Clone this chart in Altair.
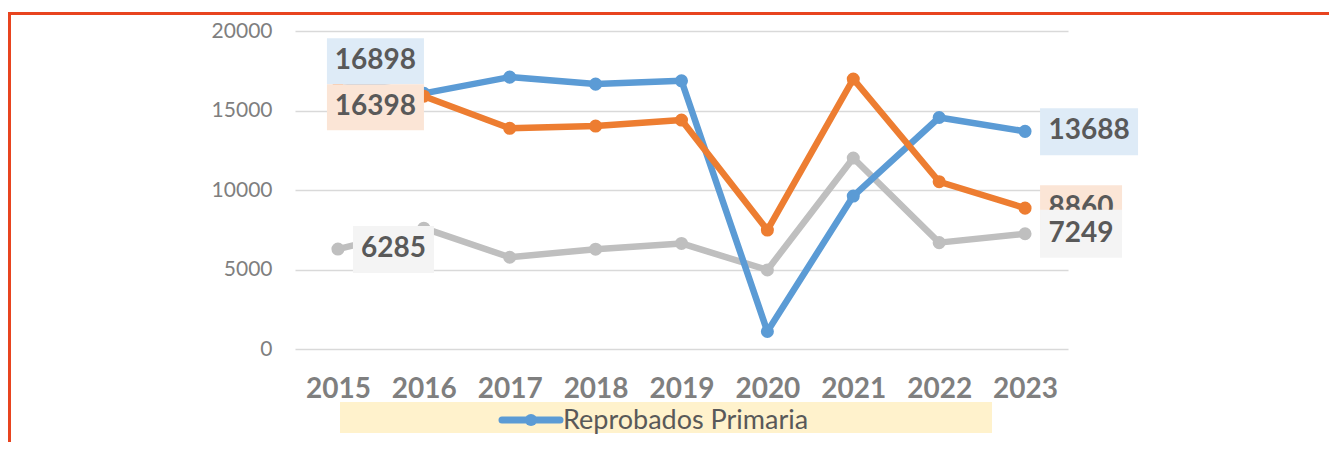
import altair as alt
import pandas as pd

# ---- data ----
years = [2015, 2016, 2017, 2018, 2019, 2020, 2021, 2022, 2023]
primaria = [16898, 16080, 17100, 16660, 16870, 1100, 9620, 14560, 13688]
secundaria = [16398, 15900, 13880, 14020, 14400, 7480, 16980, 10520, 8860]
preescolar = [6285, 7600, 5770, 6280, 6640, 4970, 12010, 6690, 7249]
series_names = ["Reprobados Primaria", "Reprobados Secundaria", "Reprobados Preescolar"]
y_ticks = [0, 5000, 10000, 15000, 20000]

rows = []
for name, vals in zip(series_names, [primaria, secundaria, preescolar]):
    for yr, v in zip(years, vals):
        rows.append({"year": yr, "value": v, "serie": name})
df = pd.DataFrame(rows)

BLUE, ORANGE, GRAY = "#5b9bd5", "#ed7d31", "#bfbfbf"
TXT = "#595959"
AX = "#7f7f7f"

xscale = alt.Scale(domain=[2014.5, 2023.5], nice=False, zero=False)
yscale = alt.Scale(domain=[0, 20000], nice=False)

x_axis = alt.Axis(values=years, format="d", grid=False, domain=False, ticks=False,
                  labelFont="Lato", labelFontWeight="bold", labelFontSize=28,
                  labelColor=AX, labelPadding=26, labelFlush=False, labelOverlap=False,
                  title=None)
y_axis = alt.Axis(values=y_ticks, format="d", grid=True, gridColor="#d9d9d9", gridWidth=1.5,
                  domain=False, ticks=False, labelFont="Lato", labelFontSize=21,
                  labelColor=AX, labelPadding=23, title=None)

X = alt.X("year:Q", scale=xscale, axis=x_axis)
Y = alt.Y("value:Q", scale=yscale, axis=y_axis)

layers = []
for name, col in [(series_names[2], GRAY), (series_names[0], BLUE), (series_names[1], ORANGE)]:
    base = alt.Chart(df).transform_filter(alt.datum.serie == name)
    layers.append(base.mark_line(color=col, strokeWidth=6.5, strokeJoin="round", strokeCap="round").encode(x=X, y=Y))
    layers.append(base.mark_circle(color=col, size=170, opacity=1).encode(x=X, y=Y))


def label(name, year, fill, L, R, T, B, dx, dy):
    base = alt.Chart(df).transform_filter((alt.datum.serie == name) & (alt.datum.year == year))
    box = base.mark_rect(fill=fill, xOffset=L, x2Offset=R, yOffset=T, y2Offset=B).encode(
        x=X, x2=alt.X2("year:Q"), y=Y, y2=alt.Y2("value:Q"))
    txt = base.mark_text(dx=dx, dy=dy, font="Lato", fontWeight="bold", fontSize=28,
                         color=TXT, align="center", baseline="middle").encode(
        x=X, y=Y, text=alt.Text("value:Q", format="d"))
    return [box, txt]


layers += label(series_names[0], 2015, "#deebf7", -11, 86, -42, 4, 37.5, -19)
layers += label(series_names[1], 2015, "#fbe5d6", -11, 86, -4, 42, 37.5, 19)
layers += label(series_names[2], 2015, "#f4f4f4", 15, 96, -23, 24, 55.5, 0)
layers += label(series_names[0], 2023, "#deebf7", 15, 113, -23, 24, 64, 0)
layers += label(series_names[1], 2023, "#fbe5d6", 15, 97, -23, 24, 56, 0)
layers += label(series_names[2], 2023, "#f4f4f4", 15, 97, -24, 24, 56, 0)

# legend (only the first series is visible in the reference)
one = pd.DataFrame({"serie": [series_names[0]]})
leg_box = alt.Chart(one).mark_rect(fill="#fff2cc").encode(
    x=alt.value(45), x2=alt.value(697), y=alt.value(371), y2=alt.value(402))
leg_line = alt.Chart(one).mark_rule(color=BLUE, strokeWidth=7, strokeCap="round").encode(
    x=alt.value(207), x2=alt.value(265), y=alt.value(389))
leg_pt = alt.Chart(one).mark_circle(color=BLUE, size=150, opacity=1).encode(
    x=alt.value(236), y=alt.value(389))
leg_txt = alt.Chart(one).mark_text(align="left", baseline="middle", font="Lato", fontSize=27,
                                   color=TXT).encode(
    x=alt.value(268), y=alt.value(390), text="serie:N")

# red frame (top and left edges visible)
frame_top = alt.Chart(one).mark_rule(color="#e8441f", strokeWidth=3).encode(
    x=alt.value(-287), x2=alt.value(1060), y=alt.value(-17.5))
frame_left = alt.Chart(one).mark_rule(color="#e8441f", strokeWidth=3).encode(
    x=alt.value(-285.5), y=alt.value(-19), y2=alt.value(430))

chart = alt.layer(*layers, leg_box, leg_line, leg_pt, leg_txt, frame_top, frame_left).properties(
    width=773, height=318,
    autosize=alt.AutoSizeParams(type="none"),
    padding={"left": 287, "top": 23, "right": 261, "bottom": 93},
).configure(background="white").configure_view(stroke=None)

chart.save("out.html", embed_options={"renderer": "svg", "actions": False})
